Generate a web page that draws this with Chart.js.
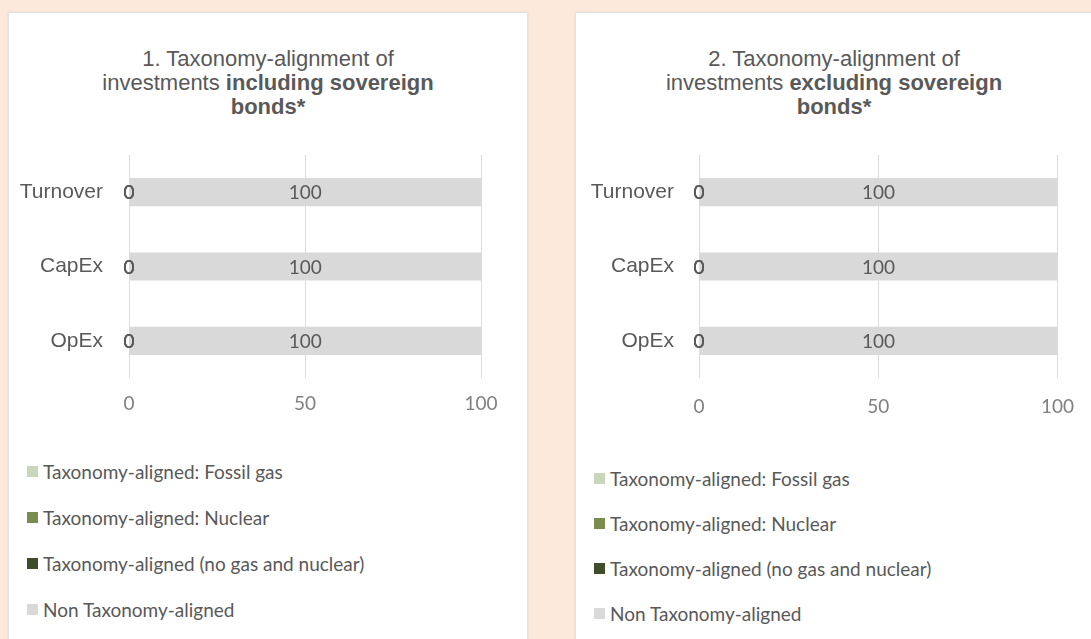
<!DOCTYPE html>
<html lang="en">
<head>
    <meta charset="UTF-8">
    <title>Taxonomy-alignment of investments</title>
    <script src="https://cdn.jsdelivr.net/npm/chart.js"></script>
    <style>
        body {
            margin: 0;
            width: 1091px;
            height: 639px;
            overflow: hidden;
            background-color: #fde9db;
            font-family: "Liberation Sans", Arial, sans-serif;
        }
        .panel {
            position: absolute;
            top: 12px;
            height: 640px;
            background-color: #fff;
            border: 1px solid #e2e2e2;
            box-shadow: 0 0 2px rgba(0,0,0,0.08);
            box-sizing: border-box;
        }
        .title {
            position: absolute;
            left: 0;
            right: 0;
            top: 34px;
            text-align: center;
            font-size: 22px;
            line-height: 24px;
            color: #595959;
        }
        .chart-box {
            position: absolute;
            top: 137px;
        }
        .legend {
            position: absolute;
            left: 18px;
            font-family: Lato, sans-serif;
            font-size: 19px;
            color: #595959;
        }
        .legend-row {
            display: flex;
            align-items: center;
        }
        .legend-box {
            width: 11px;
            height: 11px;
            margin-right: 5px;
        }
    </style>
</head>
<body>
    <!-- Chart 1: including sovereign bonds -->
    <div class="panel" style="left: 8px; width: 520px;">
        <div class="title">1. Taxonomy-alignment of<br>investments <b>including sovereign</b><br><b>bonds*</b></div>
        <div class="chart-box" style="left: 1px;">
            <canvas id="chartIncl" width="510" height="280"></canvas>
        </div>
        <div class="legend" id="legendIncl" style="top: 435px;"></div>
    </div>

    <!-- Chart 2: excluding sovereign bonds -->
    <div class="panel" style="left: 575px; width: 518px;">
        <div class="title">2. Taxonomy-alignment of<br>investments <b>excluding sovereign</b><br><b>bonds*</b></div>
        <div class="chart-box" style="left: 4px;">
            <canvas id="chartExcl" width="511" height="280"></canvas>
        </div>
        <div class="legend" id="legendExcl" style="top: 443px;"></div>
    </div>

    <script>
        // Data
        const categories = ['Turnover', 'CapEx', 'OpEx'];
        const seriesLabels = [
            'Taxonomy-aligned: Fossil gas',
            'Taxonomy-aligned: Nuclear',
            'Taxonomy-aligned (no gas and nuclear)',
            'Non Taxonomy-aligned'
        ];
        const seriesColors = ['#c9d6b9', '#7a8c4e', '#3f4d2b', '#d9d9d9'];
        const xTicks = [0, 50, 100];

        // 1. including sovereign bonds
        const inclFossilGas = [0, 0, 0];
        const inclNuclear = [0, 0, 0];
        const inclAligned = [0, 0, 0];
        const inclNonAligned = [100, 100, 100];

        // 2. excluding sovereign bonds
        const exclFossilGas = [0, 0, 0];
        const exclNuclear = [0, 0, 0];
        const exclAligned = [0, 0, 0];
        const exclNonAligned = [100, 100, 100];

        // value labels drawn on each bar segment (centre of the segment)
        const barLabels = {
            id: 'barLabels',
            afterDatasetsDraw(chart) {
                const ctx = chart.ctx;
                ctx.save();
                ctx.font = '19px Lato';
                ctx.fillStyle = '#595959';
                ctx.textAlign = 'center';
                ctx.textBaseline = 'middle';
                chart.data.datasets.forEach((ds, i) => {
                    chart.getDatasetMeta(i).data.forEach((bar, j) => {
                        const p = bar.getProps(['x', 'y', 'base'], true);
                        ctx.fillText(String(ds.data[j]), (p.x + p.base) / 2, p.y + 1);
                    });
                });
                ctx.restore();
            }
        };

        function makeChart(canvasId, legendId, values, opts) {
            const datasets = values.map((data, i) => ({
                label: seriesLabels[i],
                data: data,
                backgroundColor: seriesColors[i],
                borderWidth: 0,
                categoryPercentage: 1,
                barPercentage: 0.38
            }));

            new Chart(document.getElementById(canvasId), {
                type: 'bar',
                data: { labels: categories, datasets: datasets },
                options: {
                    indexAxis: 'y',
                    responsive: false,
                    animation: false,
                    layout: { padding: { top: 5, right: opts.padRight, left: 0, bottom: 0 } },
                    plugins: {
                        legend: { display: false },
                        tooltip: { enabled: false }
                    },
                    scales: {
                        x: {
                            stacked: true,
                            min: xTicks[0],
                            max: xTicks[xTicks.length - 1],
                            afterBuildTicks: (scale) => {
                                scale.ticks = xTicks.map(v => ({ value: v }));
                            },
                            afterFit: (scale) => { scale.height = 52; },
                            grid: { color: '#dcdcdc', lineWidth: 1, drawTicks: false },
                            border: { display: false },
                            ticks: {
                                padding: opts.tickPad,
                                color: '#808080',
                                font: { family: 'Lato', size: 19 }
                            }
                        },
                        y: {
                            stacked: true,
                            afterFit: (scale) => {
                                scale.width = 119;
                                scale.paddingTop = 0;
                                scale.paddingBottom = 0;
                            },
                            grid: { display: false, drawTicks: false },
                            border: { display: false },
                            ticks: {
                                padding: opts.labelPad,
                                color: '#595959',
                                font: { family: 'Liberation Sans', size: 21 }
                            }
                        }
                    }
                },
                plugins: [barLabels]
            });

            // legend listed vertically under the chart
            const legend = document.getElementById(legendId);
            seriesLabels.forEach((label, i) => {
                const row = document.createElement('div');
                row.className = 'legend-row';
                row.style.height = opts.legendRow + 'px';
                const box = document.createElement('span');
                box.className = 'legend-box';
                box.style.backgroundColor = seriesColors[i];
                const text = document.createElement('span');
                text.textContent = label;
                row.appendChild(box);
                row.appendChild(text);
                legend.appendChild(row);
            });
        }

        makeChart('chartIncl', 'legendIncl',
            [inclFossilGas, inclNuclear, inclAligned, inclNonAligned],
            { padRight: 39, tickPad: 14, labelPad: 26, legendRow: 46 });

        makeChart('chartExcl', 'legendExcl',
            [exclFossilGas, exclNuclear, exclAligned, exclNonAligned],
            { padRight: 33, tickPad: 17, labelPad: 25, legendRow: 45 });
    </script>
</body>
</html>
